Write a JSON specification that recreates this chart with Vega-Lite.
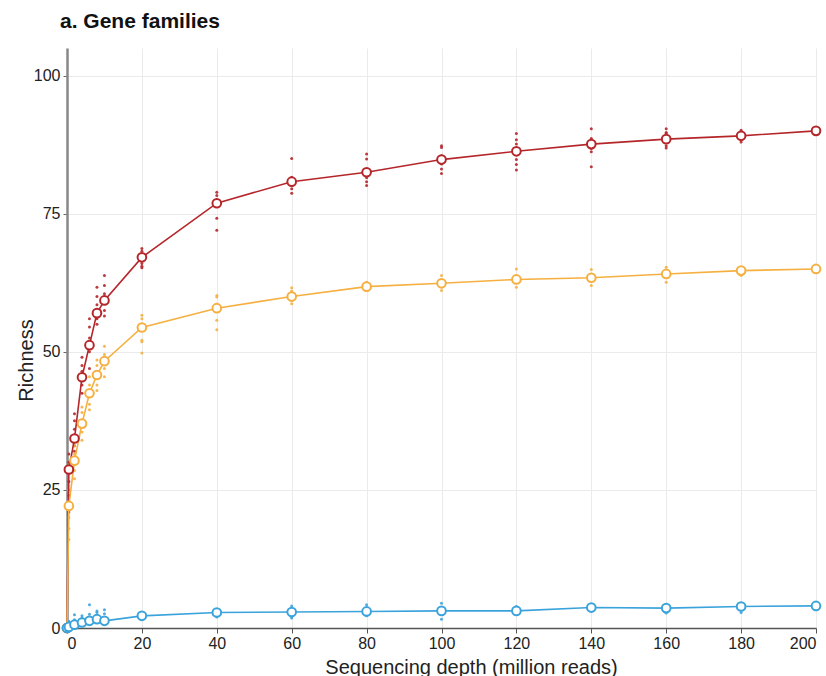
{
  "$schema": "https://vega.github.io/schema/vega-lite/v6.json",
  "width": 749,
  "height": 580,
  "autosize": {"type": "none"},
  "padding": {"left": 67, "top": 48, "right": 10, "bottom": 48},
  "background": "white",
  "title": {"text": "a. Gene families", "anchor": "start", "frame": "group", "fontSize": 21, "fontWeight": "bold", "color": "#111", "offset": 16, "dx": -7, "font": "Liberation Sans"},
  "config": {
    "font": "Liberation Sans",
    "view": {"stroke": null},
    "axis": {"labelFontSize": 16, "labelColor": "#222", "titleFontSize": 20, "titleFontWeight": "normal", "titleColor": "#222", "gridColor": "#ebebeb", "gridWidth": 1, "tickSize": 5}
  },
  "datasets": {
    "means": [
      {"group": "Group A", "depth": 0, "richness": 0},
      {"group": "Group A", "depth": 0.5, "richness": 28.7},
      {"group": "Group A", "depth": 2, "richness": 34.3},
      {"group": "Group A", "depth": 4, "richness": 45.4},
      {"group": "Group A", "depth": 6, "richness": 51.2},
      {"group": "Group A", "depth": 8, "richness": 57.0},
      {"group": "Group A", "depth": 10, "richness": 59.3},
      {"group": "Group A", "depth": 20, "richness": 67.1},
      {"group": "Group A", "depth": 40, "richness": 76.9},
      {"group": "Group A", "depth": 60, "richness": 80.8},
      {"group": "Group A", "depth": 80, "richness": 82.5},
      {"group": "Group A", "depth": 100, "richness": 84.8},
      {"group": "Group A", "depth": 120, "richness": 86.3},
      {"group": "Group A", "depth": 140, "richness": 87.6},
      {"group": "Group A", "depth": 160, "richness": 88.5},
      {"group": "Group A", "depth": 180, "richness": 89.1},
      {"group": "Group A", "depth": 200, "richness": 90.0},
      {"group": "Group B", "depth": 0, "richness": 0},
      {"group": "Group B", "depth": 0.5, "richness": 22.1},
      {"group": "Group B", "depth": 2, "richness": 30.3},
      {"group": "Group B", "depth": 4, "richness": 37.0},
      {"group": "Group B", "depth": 6, "richness": 42.5},
      {"group": "Group B", "depth": 8, "richness": 45.8},
      {"group": "Group B", "depth": 10, "richness": 48.3},
      {"group": "Group B", "depth": 20, "richness": 54.4},
      {"group": "Group B", "depth": 40, "richness": 57.9},
      {"group": "Group B", "depth": 60, "richness": 60.0},
      {"group": "Group B", "depth": 80, "richness": 61.8},
      {"group": "Group B", "depth": 100, "richness": 62.4},
      {"group": "Group B", "depth": 120, "richness": 63.1},
      {"group": "Group B", "depth": 140, "richness": 63.4},
      {"group": "Group B", "depth": 160, "richness": 64.1},
      {"group": "Group B", "depth": 180, "richness": 64.7},
      {"group": "Group B", "depth": 200, "richness": 65.0},
      {"group": "Group C", "depth": 0, "richness": 0},
      {"group": "Group C", "depth": 0.5, "richness": 0.2},
      {"group": "Group C", "depth": 2, "richness": 0.6},
      {"group": "Group C", "depth": 4, "richness": 1.0},
      {"group": "Group C", "depth": 6, "richness": 1.3},
      {"group": "Group C", "depth": 8, "richness": 1.6},
      {"group": "Group C", "depth": 10, "richness": 1.3},
      {"group": "Group C", "depth": 20, "richness": 2.2},
      {"group": "Group C", "depth": 40, "richness": 2.8},
      {"group": "Group C", "depth": 60, "richness": 2.9},
      {"group": "Group C", "depth": 80, "richness": 3.0},
      {"group": "Group C", "depth": 100, "richness": 3.1},
      {"group": "Group C", "depth": 120, "richness": 3.1},
      {"group": "Group C", "depth": 140, "richness": 3.7},
      {"group": "Group C", "depth": 160, "richness": 3.6},
      {"group": "Group C", "depth": 180, "richness": 3.9},
      {"group": "Group C", "depth": 200, "richness": 4.0}
    ],
    "reps": [
      {"group": "Group A", "depth": 0.5, "richness": 31.5},
      {"group": "Group A", "depth": 0.5, "richness": 30.0},
      {"group": "Group A", "depth": 0.5, "richness": 26.5},
      {"group": "Group A", "depth": 0.5, "richness": 24.0},
      {"group": "Group A", "depth": 0.5, "richness": 21.0},
      {"group": "Group A", "depth": 2, "richness": 38.8},
      {"group": "Group A", "depth": 2, "richness": 37.5},
      {"group": "Group A", "depth": 2, "richness": 36.0},
      {"group": "Group A", "depth": 2, "richness": 33.0},
      {"group": "Group A", "depth": 2, "richness": 32.0},
      {"group": "Group A", "depth": 4, "richness": 49.0},
      {"group": "Group A", "depth": 4, "richness": 47.5},
      {"group": "Group A", "depth": 4, "richness": 46.5},
      {"group": "Group A", "depth": 4, "richness": 44.0},
      {"group": "Group A", "depth": 4, "richness": 42.5},
      {"group": "Group A", "depth": 6, "richness": 56.0},
      {"group": "Group A", "depth": 6, "richness": 54.5},
      {"group": "Group A", "depth": 6, "richness": 52.5},
      {"group": "Group A", "depth": 6, "richness": 50.0},
      {"group": "Group A", "depth": 6, "richness": 47.0},
      {"group": "Group A", "depth": 8, "richness": 61.7},
      {"group": "Group A", "depth": 8, "richness": 60.0},
      {"group": "Group A", "depth": 8, "richness": 58.5},
      {"group": "Group A", "depth": 8, "richness": 56.0},
      {"group": "Group A", "depth": 8, "richness": 55.0},
      {"group": "Group A", "depth": 10, "richness": 63.8},
      {"group": "Group A", "depth": 10, "richness": 62.0},
      {"group": "Group A", "depth": 10, "richness": 60.5},
      {"group": "Group A", "depth": 10, "richness": 57.5},
      {"group": "Group A", "depth": 10, "richness": 56.5},
      {"group": "Group A", "depth": 20, "richness": 68.7},
      {"group": "Group A", "depth": 20, "richness": 68.2},
      {"group": "Group A", "depth": 20, "richness": 67.5},
      {"group": "Group A", "depth": 20, "richness": 66.0},
      {"group": "Group A", "depth": 20, "richness": 65.5},
      {"group": "Group A", "depth": 20, "richness": 65.2},
      {"group": "Group A", "depth": 40, "richness": 78.9},
      {"group": "Group A", "depth": 40, "richness": 78.3},
      {"group": "Group A", "depth": 40, "richness": 77.5},
      {"group": "Group A", "depth": 40, "richness": 76.3},
      {"group": "Group A", "depth": 40, "richness": 74.2},
      {"group": "Group A", "depth": 40, "richness": 72.0},
      {"group": "Group A", "depth": 60, "richness": 85.0},
      {"group": "Group A", "depth": 60, "richness": 81.6},
      {"group": "Group A", "depth": 60, "richness": 80.2},
      {"group": "Group A", "depth": 60, "richness": 79.5},
      {"group": "Group A", "depth": 60, "richness": 78.7},
      {"group": "Group A", "depth": 80, "richness": 85.8},
      {"group": "Group A", "depth": 80, "richness": 84.9},
      {"group": "Group A", "depth": 80, "richness": 83.0},
      {"group": "Group A", "depth": 80, "richness": 81.5},
      {"group": "Group A", "depth": 80, "richness": 80.8},
      {"group": "Group A", "depth": 80, "richness": 80.1},
      {"group": "Group A", "depth": 100, "richness": 87.3},
      {"group": "Group A", "depth": 100, "richness": 87.0},
      {"group": "Group A", "depth": 100, "richness": 85.5},
      {"group": "Group A", "depth": 100, "richness": 84.0},
      {"group": "Group A", "depth": 100, "richness": 83.1},
      {"group": "Group A", "depth": 100, "richness": 82.3},
      {"group": "Group A", "depth": 120, "richness": 89.5},
      {"group": "Group A", "depth": 120, "richness": 88.4},
      {"group": "Group A", "depth": 120, "richness": 87.6},
      {"group": "Group A", "depth": 120, "richness": 84.8},
      {"group": "Group A", "depth": 120, "richness": 83.9},
      {"group": "Group A", "depth": 120, "richness": 82.9},
      {"group": "Group A", "depth": 140, "richness": 90.4},
      {"group": "Group A", "depth": 140, "richness": 88.6},
      {"group": "Group A", "depth": 140, "richness": 86.8},
      {"group": "Group A", "depth": 140, "richness": 86.2},
      {"group": "Group A", "depth": 140, "richness": 83.5},
      {"group": "Group A", "depth": 160, "richness": 90.4},
      {"group": "Group A", "depth": 160, "richness": 89.7},
      {"group": "Group A", "depth": 160, "richness": 89.5},
      {"group": "Group A", "depth": 160, "richness": 87.3},
      {"group": "Group A", "depth": 160, "richness": 86.9},
      {"group": "Group A", "depth": 180, "richness": 90.1},
      {"group": "Group A", "depth": 180, "richness": 89.5},
      {"group": "Group A", "depth": 180, "richness": 88.0},
      {"group": "Group B", "depth": 0.5, "richness": 25.0},
      {"group": "Group B", "depth": 0.5, "richness": 23.0},
      {"group": "Group B", "depth": 0.5, "richness": 20.0},
      {"group": "Group B", "depth": 0.5, "richness": 18.0},
      {"group": "Group B", "depth": 0.5, "richness": 16.0},
      {"group": "Group B", "depth": 2, "richness": 33.0},
      {"group": "Group B", "depth": 2, "richness": 31.5},
      {"group": "Group B", "depth": 2, "richness": 28.5},
      {"group": "Group B", "depth": 2, "richness": 27.0},
      {"group": "Group B", "depth": 4, "richness": 40.0},
      {"group": "Group B", "depth": 4, "richness": 39.0},
      {"group": "Group B", "depth": 4, "richness": 35.5},
      {"group": "Group B", "depth": 4, "richness": 34.0},
      {"group": "Group B", "depth": 6, "richness": 45.5},
      {"group": "Group B", "depth": 6, "richness": 44.0},
      {"group": "Group B", "depth": 6, "richness": 40.5},
      {"group": "Group B", "depth": 6, "richness": 39.5},
      {"group": "Group B", "depth": 8, "richness": 48.5},
      {"group": "Group B", "depth": 8, "richness": 47.5},
      {"group": "Group B", "depth": 8, "richness": 44.0},
      {"group": "Group B", "depth": 8, "richness": 43.0},
      {"group": "Group B", "depth": 10, "richness": 51.0},
      {"group": "Group B", "depth": 10, "richness": 49.5},
      {"group": "Group B", "depth": 10, "richness": 47.0},
      {"group": "Group B", "depth": 10, "richness": 45.5},
      {"group": "Group B", "depth": 20, "richness": 56.6},
      {"group": "Group B", "depth": 20, "richness": 56.0},
      {"group": "Group B", "depth": 20, "richness": 52.1},
      {"group": "Group B", "depth": 20, "richness": 51.8},
      {"group": "Group B", "depth": 20, "richness": 49.8},
      {"group": "Group B", "depth": 40, "richness": 60.2},
      {"group": "Group B", "depth": 40, "richness": 59.9},
      {"group": "Group B", "depth": 40, "richness": 55.7},
      {"group": "Group B", "depth": 40, "richness": 54.0},
      {"group": "Group B", "depth": 60, "richness": 61.6},
      {"group": "Group B", "depth": 60, "richness": 61.0},
      {"group": "Group B", "depth": 60, "richness": 59.4},
      {"group": "Group B", "depth": 60, "richness": 58.7},
      {"group": "Group B", "depth": 80, "richness": 62.6},
      {"group": "Group B", "depth": 80, "richness": 61.1},
      {"group": "Group B", "depth": 100, "richness": 63.8},
      {"group": "Group B", "depth": 100, "richness": 61.1},
      {"group": "Group B", "depth": 120, "richness": 65.0},
      {"group": "Group B", "depth": 120, "richness": 61.7},
      {"group": "Group B", "depth": 140, "richness": 64.9},
      {"group": "Group B", "depth": 140, "richness": 62.0},
      {"group": "Group B", "depth": 160, "richness": 65.3},
      {"group": "Group B", "depth": 160, "richness": 62.6},
      {"group": "Group B", "depth": 180, "richness": 63.8},
      {"group": "Group C", "depth": 0.5, "richness": 1.2},
      {"group": "Group C", "depth": 0.5, "richness": 0.8},
      {"group": "Group C", "depth": 2, "richness": 2.4},
      {"group": "Group C", "depth": 2, "richness": 1.5},
      {"group": "Group C", "depth": 2, "richness": 1.0},
      {"group": "Group C", "depth": 4, "richness": 2.2},
      {"group": "Group C", "depth": 4, "richness": 1.8},
      {"group": "Group C", "depth": 4, "richness": 0.8},
      {"group": "Group C", "depth": 6, "richness": 4.2},
      {"group": "Group C", "depth": 6, "richness": 2.5},
      {"group": "Group C", "depth": 6, "richness": 1.8},
      {"group": "Group C", "depth": 8, "richness": 3.1},
      {"group": "Group C", "depth": 8, "richness": 2.8},
      {"group": "Group C", "depth": 8, "richness": 2.2},
      {"group": "Group C", "depth": 10, "richness": 3.3},
      {"group": "Group C", "depth": 10, "richness": 2.6},
      {"group": "Group C", "depth": 10, "richness": 1.8},
      {"group": "Group C", "depth": 20, "richness": 2.8},
      {"group": "Group C", "depth": 20, "richness": 1.8},
      {"group": "Group C", "depth": 40, "richness": 3.3},
      {"group": "Group C", "depth": 40, "richness": 2.0},
      {"group": "Group C", "depth": 60, "richness": 4.0},
      {"group": "Group C", "depth": 60, "richness": 2.0},
      {"group": "Group C", "depth": 60, "richness": 1.8},
      {"group": "Group C", "depth": 80, "richness": 4.2},
      {"group": "Group C", "depth": 80, "richness": 2.2},
      {"group": "Group C", "depth": 100, "richness": 4.5},
      {"group": "Group C", "depth": 100, "richness": 1.6},
      {"group": "Group C", "depth": 120, "richness": 3.9},
      {"group": "Group C", "depth": 120, "richness": 2.7},
      {"group": "Group C", "depth": 160, "richness": 4.2},
      {"group": "Group C", "depth": 160, "richness": 2.7},
      {"group": "Group C", "depth": 180, "richness": 2.8}
    ]
  },
  "encoding": {
    "x": {"field": "depth", "type": "quantitative", "scale": {"domain": [0, 200], "nice": false},
      "axis": {"title": "Sequencing depth (million reads)", "values": [0, 20, 40, 60, 80, 100, 120, 140, 160, 180, 200], "domainColor": "#555", "domainWidth": 1.5, "tickColor": "#555", "labelPadding": 2, "titleX": 404, "titleY": 45, "titleBaseline": "alphabetic", "titleAlign": "center"}},
    "y": {"field": "richness", "type": "quantitative", "scale": {"domain": [0, 105], "nice": false},
      "axis": {"title": "Richness", "values": [0, 25, 50, 75, 100], "domainColor": "#888", "domainWidth": 2.5, "tickColor": "#666", "tickSize": 4, "labelPadding": 3, "titleX": -35, "titleY": 312, "titleBaseline": "alphabetic", "titleAlign": "center", "titleAngle": -90}},
    "color": {"field": "group", "type": "nominal", "scale": {"domain": ["Group A", "Group B", "Group C"], "range": ["#b5262b", "#f5b041", "#3ba3dc"]}, "legend": null}
  },
  "layer": [
    {"data": {"name": "reps"}, "mark": {"type": "circle", "size": 9, "opacity": 0.9}},
    {"data": {"name": "means"}, "mark": {"type": "line", "strokeWidth": 1.6}},
    {"data": {"name": "means"}, "mark": {"type": "point", "filled": false, "fill": "white", "fillOpacity": 1, "size": 75, "strokeWidth": 2, "opacity": 1}}
  ]
}
